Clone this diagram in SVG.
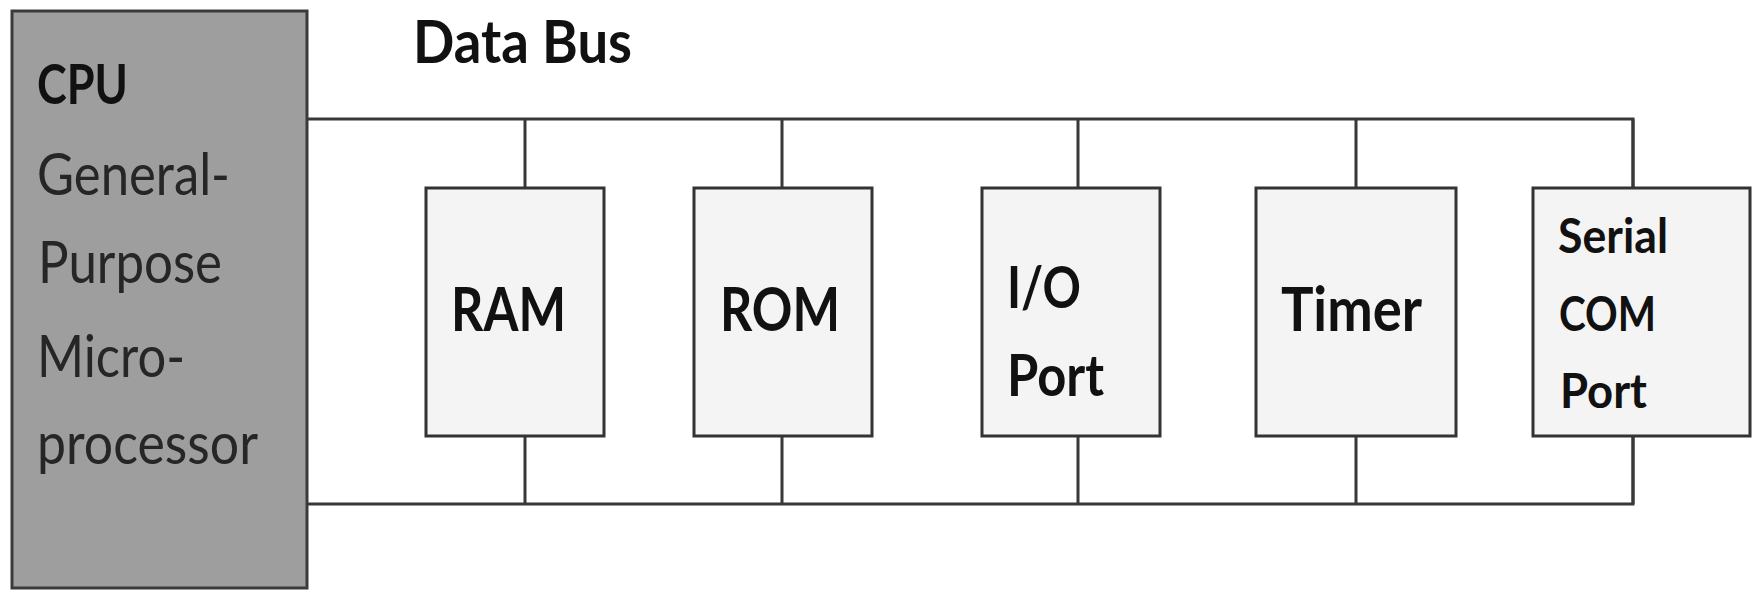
<svg xmlns="http://www.w3.org/2000/svg" width="1756" height="594" viewBox="0 0 1756 594">
<style>
.bg{fill:#ffffff}
.cpu{fill:#9e9e9e;stroke:#3a3a3a;stroke-width:3}
.box{fill:#f4f4f4;stroke:#333333;stroke-width:3}
.bus{fill:none;stroke:#383838;stroke-width:3}
.b{font-family:Lato,"Open Sans","Liberation Sans",sans-serif;font-weight:700;fill:#111111}
.r{font-family:Lato,"Open Sans","Liberation Sans",sans-serif;font-weight:400;fill:#262626}
</style>
<rect class="bg" x="0" y="0" width="1756" height="594"/>
<g id="connectors">
<path class="bus" d="M307 119 H1633 V188"/>
<path class="bus" d="M307 504 H1633 V436"/>
<path class="bus" d="M525 119 V188 M525 436 V504"/>
<path class="bus" d="M782 119 V188 M782 436 V504"/>
<path class="bus" d="M1078 119 V188 M1078 436 V504"/>
<path class="bus" d="M1356 119 V188 M1356 436 V504"/>
<path class="bus" d="M1633 119 V188 M1633 436 V504"/>
</g>
<g id="data-bus-label">
<text class="b" x="413" y="63" font-size="59" textLength="219" lengthAdjust="spacingAndGlyphs">Data Bus</text>
</g>
<g id="cpu">
<rect class="cpu" x="12" y="11" width="295" height="577"/>
<text class="b" x="37" y="104" font-size="56" textLength="91" lengthAdjust="spacingAndGlyphs">CPU</text>
<text class="r" x="37" y="195" font-size="59" textLength="193" lengthAdjust="spacingAndGlyphs">General-</text>
<text class="r" x="38" y="283" font-size="59" textLength="184" lengthAdjust="spacingAndGlyphs">Purpose</text>
<text class="r" x="37" y="377" font-size="59" textLength="148" lengthAdjust="spacingAndGlyphs">Micro-</text>
<text class="r" x="37" y="464" font-size="59" textLength="221" lengthAdjust="spacingAndGlyphs">processor</text>
</g>
<g id="ram">
<rect class="box" x="426" y="188" width="178" height="248"/>
<text class="b" x="451" y="331" font-size="62" textLength="115" lengthAdjust="spacingAndGlyphs">RAM</text>
</g>
<g id="rom">
<rect class="box" x="694" y="188" width="178" height="248"/>
<text class="b" x="720" y="331" font-size="62" textLength="120" lengthAdjust="spacingAndGlyphs">ROM</text>
</g>
<g id="io-port">
<rect class="box" x="982" y="188" width="178" height="248"/>
<text class="b" x="1007" y="308" font-size="57" textLength="74" lengthAdjust="spacingAndGlyphs">I/O</text>
<text class="b" x="1007" y="396" font-size="57" textLength="97" lengthAdjust="spacingAndGlyphs">Port</text>
</g>
<g id="timer">
<rect class="box" x="1256" y="188" width="200" height="248"/>
<text class="b" x="1281" y="331" font-size="62" textLength="141" lengthAdjust="spacingAndGlyphs">Timer</text>
</g>
<g id="serial-com-port">
<rect class="box" x="1533" y="188" width="217" height="248"/>
<text class="b" x="1558" y="253" font-size="48" textLength="110" lengthAdjust="spacingAndGlyphs">Serial</text>
<text class="b" x="1559" y="331" font-size="48" textLength="97" lengthAdjust="spacingAndGlyphs">COM</text>
<text class="b" x="1560" y="408" font-size="48" textLength="87" lengthAdjust="spacingAndGlyphs">Port</text>
</g>
</svg>
